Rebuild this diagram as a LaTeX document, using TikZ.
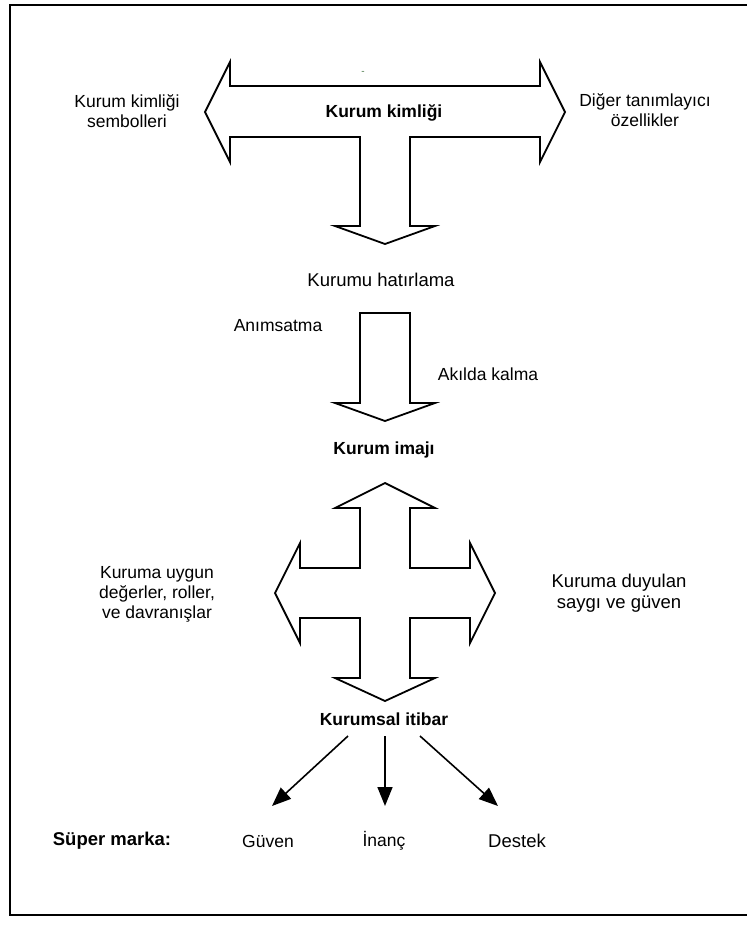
\documentclass[tikz,border=0pt]{standalone}
\usepackage{fontspec}
\setmainfont{Liberation Sans}
\usetikzlibrary{arrows.meta}
\begin{document}
\begin{tikzpicture}[x=1pt,y=-1pt,
  blockarrow/.style={draw=black,line width=1.8pt,fill=white,line join=miter},
  lbl/.style={font=\fontsize{17.5}{20}\selectfont,align=center,inner sep=0pt},
  biglbl/.style={font=\fontsize{18.5}{20.5}\selectfont,align=center,inner sep=0pt},
  blbl/.style={font=\fontsize{17.5}{20}\selectfont\bfseries,align=center,inner sep=0pt},
  conn/.style={line width=1.6pt,-{Triangle[length=19pt,width=15pt]}}]

\useasboundingbox (0,0) rectangle (747,927);
\clip (0,0) rectangle (747,927);

% outer frame (open on the right)
\draw[line width=2pt] (760,5) -- (10,5) -- (10,915) -- (760,915);

% T-shaped arrow: left, right and down
\draw[blockarrow] (205,112) -- (230,62) -- (230,86) -- (540,86) -- (540,62)
  -- (565,112) -- (540,162) -- (540,137) -- (410,137) -- (410,226)
  -- (435,226) -- (385,244) -- (335,226) -- (360,226) -- (360,137)
  -- (230,137) -- (230,162) -- cycle;

% single down arrow
\draw[blockarrow] (360,313) -- (410,313) -- (410,403) -- (435,403)
  -- (385,421) -- (335,403) -- (360,403) -- cycle;

% four-way arrow
\draw[blockarrow] (385,483) -- (435,508) -- (410,508) -- (410,568)
  -- (470,568) -- (470,543) -- (495,593) -- (470,643) -- (470,618)
  -- (410,618) -- (410,678) -- (435,678) -- (385,701) -- (335,678)
  -- (360,678) -- (360,618) -- (300,618) -- (300,643) -- (275,593)
  -- (300,543) -- (300,568) -- (360,568) -- (360,508) -- (335,508) -- cycle;

% labels
\node[font=\fontsize{10}{10}\selectfont,text=black!55!green!40!gray,inner sep=0pt] (dash) at (363,73) {-};
\node[blbl] (kimlik) at (384,113) {Kurum kimliği};
\node[lbl] (semboller) at (127,111) {Kurum kimliği\\sembolleri};
\node[lbl] (diger) at (645,110) {Diğer tanımlayıcı\\özellikler};
\node[biglbl] (hatirlama) at (381,280) {Kurumu hatırlama};
\node[lbl] (animsatma) at (278,326) {Anımsatma};
\node[lbl] (akilda) at (488,374) {Akılda kalma};
\node[blbl] (imaj) at (384,450) {Kurum imajı};
\node[lbl] (uygun) at (157,594) {Kuruma uygun\\değerler, roller,\\ve davranışlar};
\node[biglbl] (saygi) at (619,593) {Kuruma duyulan\\saygı ve güven};
\node[blbl] (itibar) at (384,719) {Kurumsal itibar};

\node[font=\fontsize{18.5}{20}\selectfont\bfseries,inner sep=0pt] (super) at (112,841) {Süper marka:};
\node[lbl] (guven) at (268,841) {Güven};
\node[lbl] (inanc) at (384,841) {İnanç};
\node[biglbl] (destek) at (517,841) {Destek};

% connectors from the reputation label to the three outcomes
\coordinate (s1) at (348,736);
\coordinate (e1) at (272,806);
\coordinate (s2) at (385,736);
\coordinate (e2) at (385,806);
\coordinate (s3) at (420,736);
\coordinate (e3) at (498,806);
\draw[conn] (s1) -- (e1);
\draw[conn] (s2) -- (e2);
\draw[conn] (s3) -- (e3);
\end{tikzpicture}
\end{document}
